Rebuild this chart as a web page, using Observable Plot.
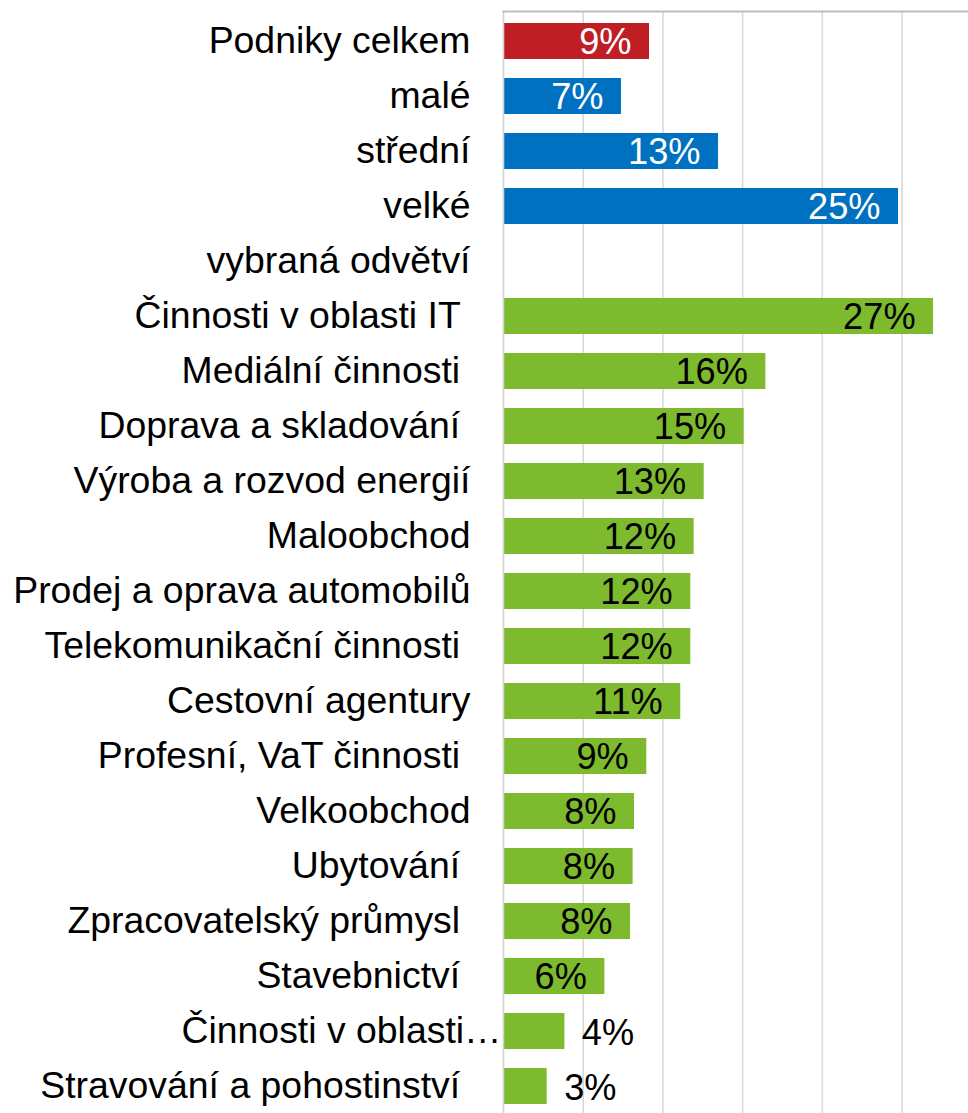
<!DOCTYPE html>
<html>
<head>
<meta charset="utf-8">
<script src="https://cdn.jsdelivr.net/npm/d3@7"></script>
<script src="https://cdn.jsdelivr.net/npm/@observablehq/plot@0.6"></script>
<style>
  html, body { margin: 0; padding: 0; background: #fff; }
  #chart svg text { white-space: pre; }
</style>
</head>
<body>
<div id="chart"></div>
<script>
// Categories (trailing spaces as in the source labels)
const categories = [
  "Podniky celkem",
  "malé",
  "střední",
  "velké",
  "vybraná odvětví",
  "Činnosti v oblasti IT ",
  "Mediální činnosti ",
  "Doprava a skladování ",
  "Výroba a rozvod energií",
  "Maloobchod",
  "Prodej a oprava automobilů",
  "Telekomunikační činnosti ",
  "Cestovní agentury",
  "Profesní, VaT činnosti ",
  "Velkoobchod",
  "Ubytování ",
  "Zpracovatelský průmysl ",
  "Stavebnictví ",
  "Činnosti v oblasti…",
  "Stravování a pohostinství "
];
// Values in %
const values = [9.16, 7.4, 13.49, 24.78, null, 26.98, 16.46, 15.1, 12.59, 11.96, 11.75, 11.75, 11.12, 8.99, 8.22, 8.13, 7.97, 6.36, 3.85, 2.74];
// Displayed value labels
const valueLabels = ["9%", "7%", "13%", "25%", "", "27%", "16%", "15%", "13%", "12%", "12%", "12%", "11%", "9%", "8%", "8%", "8%", "6%", "4%", "3%"];
// Groups
const groups = ["celkem", "velikost", "velikost", "velikost", "odvětví", "odvětví", "odvětví", "odvětví", "odvětví", "odvětví", "odvětví", "odvětví", "odvětví", "odvětví", "odvětví", "odvětví", "odvětví", "odvětví", "odvětví", "odvětví"];
const gridTicks = [5, 10, 15, 20, 25, 30];

const rows = categories.map((c, i) => ({cat: c, value: values[i], label: valueLabels[i], group: groups[i], idx: i}));
const bars = rows.filter(d => d.value != null);
const inside = bars.filter(d => d.value >= 5);
const outside = bars.filter(d => d.value < 5);

const FONT = "'Liberation Sans', Arial, sans-serif";

const chart = Plot.plot({
  width: 968,
  height: 1113,
  marginTop: 11,
  marginBottom: 0,
  marginLeft: 503,
  marginRight: 0,
  style: {fontFamily: FONT, background: "#fff"},
  x: {domain: [0, 30], range: [503, 981.2], axis: null},
  y: {domain: categories, range: [10.5, 1116.5], paddingInner: 0.34, paddingOuter: 0.17, axis: null},
  color: {domain: ["celkem", "velikost", "odvětví"], range: ["#BE1E24", "#0070C0", "#7DBA2E"]},
  marks: [
    Plot.gridX(gridTicks, {stroke: "#d9d9d9", strokeOpacity: 1, strokeWidth: 1.6}),
    Plot.barX(bars, {x: "value", y: "cat", fill: "group"}),
    Plot.ruleX([0], {stroke: "#d0d0d0", strokeWidth: 1.6}),
    Plot.frame({anchor: "top", stroke: "#bdbdbd", strokeWidth: 2}),
    Plot.text(inside, {x: "value", y: "cat", text: "label", textAnchor: "end", dx: -18, dy: 1,
      fontSize: 36.2, fill: d => d.group === "odvětví" ? "#000" : "#fff"}),
    Plot.text(outside, {x: "value", y: "cat", text: "label", textAnchor: "start", dx: 17, dy: 2,
      fontSize: 36.2, fill: "#000"}),
    Plot.text(rows.filter(d => !d.cat.endsWith("…")), {x: () => 0, y: "cat", text: "cat", textAnchor: "end", dx: -33,
      fontSize: 37.4, fill: "#000"}),
    Plot.text(rows.filter(d => d.cat.endsWith("…")), {x: () => 0, y: "cat", text: "cat", textAnchor: "end", dx: -2,
      fontSize: 37.4, fill: "#000"})
  ]
});
document.getElementById("chart").appendChild(chart);
</script>
</body>
</html>
